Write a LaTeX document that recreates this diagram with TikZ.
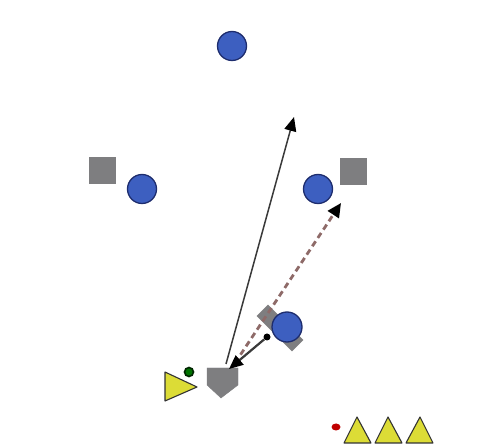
\documentclass[tikz,border=0pt]{standalone}
\usetikzlibrary{arrows.meta,shapes.geometric}
\definecolor{playerblue}{HTML}{3D5FC0}
\definecolor{playeredge}{HTML}{1E2D6E}
\definecolor{conegray}{HTML}{7E7E80}
\definecolor{coneyellow}{HTML}{DCDC36}
\definecolor{passline}{HTML}{8E6A68}
\definecolor{runline}{HTML}{3A3A3A}
\tikzset{
  player/.style={circle, fill=playerblue, draw=playeredge, line width=1.3pt, minimum size=29pt, inner sep=0pt},
  marker/.style={rectangle, fill=conegray, minimum size=27pt, inner sep=0pt},
  ball/.style={circle, inner sep=0pt, minimum size=#1},
  runarrow/.style={draw=runline, line width=1.5pt, -{Triangle[length=14pt,width=12pt,color=black]}},
  passarrow/.style={draw=passline, line width=2.8pt, dash pattern=on 6pt off 4pt, -{Triangle[length=14pt,width=13pt,fill=black,color=black]}},
  cone/.style={fill=coneyellow, draw=black!80, line width=1.1pt, line join=round},
}
\begin{document}
\begin{tikzpicture}[x=1pt,y=-1pt]
  \fill[white] (0,0) rectangle (485,446);
  \useasboundingbox (0,0) rectangle (485,446);

  % defenders and markers
  \node[player] (ptop) at (232,46) {};
  \node[marker] (mleft) at (102,171) {};
  \node[player] (pleft) at (142,189) {};
  \node[player] (pright) at (318,189) {};
  \node[marker] (mright) at (353,172) {};

  % marker under the attacker
  \node[rectangle, fill=conegray, minimum width=50pt, minimum height=16pt, inner sep=0pt, rotate=-45] (mmid) at (280,328) {};
  \node[player, minimum size=30pt] (pmid) at (287,327) {};
  \node[ball=7pt, fill=black] (bdot) at (267,337) {};

  % home plate
  \filldraw[fill=conegray, draw=conegray] (207,368) -- (238,368) -- (238,385) -- (221,398) -- (207,385) -- cycle;
  \coordinate (plateA) at (226,364);
  \coordinate (plateB) at (235,363);
  \coordinate (plateC) at (229,369);

  % left-hand cone and ball
  \filldraw[cone] (165,372) -- (197,387) -- (165,401) -- cycle;
  \node[ball=9pt, fill=green!45!black, draw=black!85!green, line width=1.6pt] (gball) at (189,372) {};

  % cones in the corner
  \node[ellipse, inner sep=0pt, minimum width=9pt, minimum height=7pt, fill=red!75!black] (rball) at (336,427) {};
  \filldraw[cone] (344,443) -- (357,417) -- (371,443) -- cycle;
  \filldraw[cone] (375,443) -- (388,417) -- (402,443) -- cycle;
  \filldraw[cone] (406,443) -- (420,417) -- (433,443) -- cycle;

  % runs and passes
  \coordinate (runend) at (294,117);
  \coordinate (passend) at (341,203);
  \draw[runarrow] (plateA) -- (runend);
  \draw[passarrow] (plateB) -- (passend);
  \draw[runarrow, line width=2.2pt] (bdot) -- (plateC);
\end{tikzpicture}
\end{document}
